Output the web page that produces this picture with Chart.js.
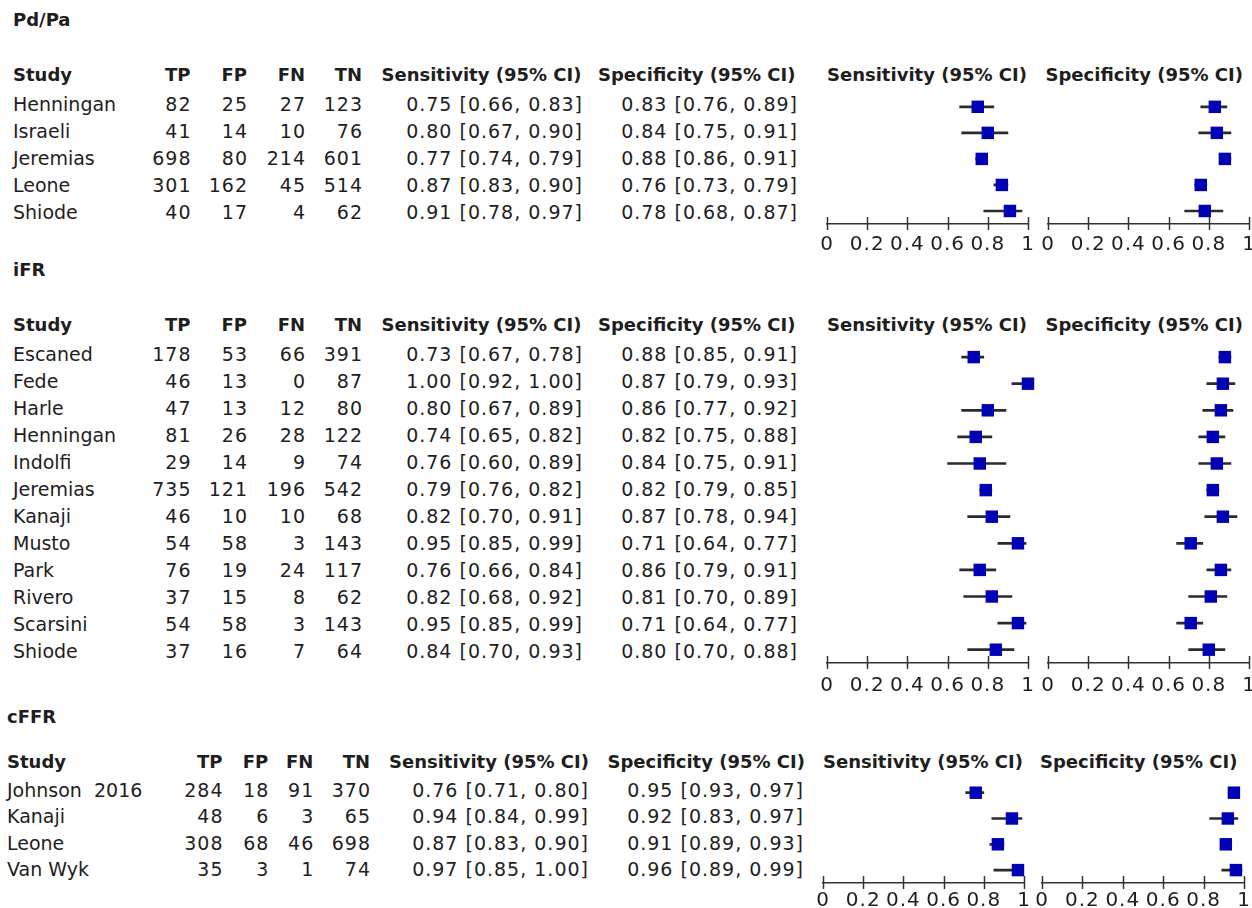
<!DOCTYPE html>
<html lang="en">
<head>
<meta charset="UTF-8">
<title>Forest plot</title>
<script src="https://cdn.jsdelivr.net/npm/chart.js"></script>
<style>
  html, body { margin: 0; padding: 0; background: #fff; }
  body { width: 1252px; height: 908px; position: relative; overflow: hidden;
         font-family: "DejaVu Sans", sans-serif; color: #1e1e1e; }
  .t { position: absolute; white-space: pre; font-size: 19px; line-height: 22px; height: 22px; }
  .b { font-weight: bold; font-size: 18px; }
  .n { letter-spacing: 1px; }
  .r { text-align: right; }
  canvas { position: absolute; }
</style>
</head>
<body>
<script>
// ---- data ----
// Pd/Pa
const pdStudy = ['Henningan', 'Israeli', 'Jeremias', 'Leone', 'Shiode'];
const pdTP = [82, 41, 698, 301, 40];
const pdFP = [25, 14, 80, 162, 17];
const pdFN = [27, 10, 214, 45, 4];
const pdTN = [123, 76, 601, 514, 62];
const pdSens = [0.75, 0.80, 0.77, 0.87, 0.91];
const pdSensLo = [0.66, 0.67, 0.74, 0.83, 0.78];
const pdSensHi = [0.83, 0.90, 0.79, 0.90, 0.97];
const pdSpec = [0.83, 0.84, 0.88, 0.76, 0.78];
const pdSpecLo = [0.76, 0.75, 0.86, 0.73, 0.68];
const pdSpecHi = [0.89, 0.91, 0.91, 0.79, 0.87];

// iFR
const ifrStudy = ['Escaned', 'Fede', 'Harle', 'Henningan', 'Indolfi', 'Jeremias', 'Kanaji', 'Musto', 'Park', 'Rivero', 'Scarsini', 'Shiode'];
const ifrTP = [178, 46, 47, 81, 29, 735, 46, 54, 76, 37, 54, 37];
const ifrFP = [53, 13, 13, 26, 14, 121, 10, 58, 19, 15, 58, 16];
const ifrFN = [66, 0, 12, 28, 9, 196, 10, 3, 24, 8, 3, 7];
const ifrTN = [391, 87, 80, 122, 74, 542, 68, 143, 117, 62, 143, 64];
const ifrSens = [0.73, 1.00, 0.80, 0.74, 0.76, 0.79, 0.82, 0.95, 0.76, 0.82, 0.95, 0.84];
const ifrSensLo = [0.67, 0.92, 0.67, 0.65, 0.60, 0.76, 0.70, 0.85, 0.66, 0.68, 0.85, 0.70];
const ifrSensHi = [0.78, 1.00, 0.89, 0.82, 0.89, 0.82, 0.91, 0.99, 0.84, 0.92, 0.99, 0.93];
const ifrSpec = [0.88, 0.87, 0.86, 0.82, 0.84, 0.82, 0.87, 0.71, 0.86, 0.81, 0.71, 0.80];
const ifrSpecLo = [0.85, 0.79, 0.77, 0.75, 0.75, 0.79, 0.78, 0.64, 0.79, 0.70, 0.64, 0.70];
const ifrSpecHi = [0.91, 0.93, 0.92, 0.88, 0.91, 0.85, 0.94, 0.77, 0.91, 0.89, 0.77, 0.88];

// cFFR
const cffrStudy = ['Johnson  2016', 'Kanaji', 'Leone', 'Van Wyk'];
const cffrTP = [284, 48, 308, 35];
const cffrFP = [18, 6, 68, 3];
const cffrFN = [91, 3, 46, 1];
const cffrTN = [370, 65, 698, 74];
const cffrSens = [0.76, 0.94, 0.87, 0.97];
const cffrSensLo = [0.71, 0.84, 0.83, 0.85];
const cffrSensHi = [0.80, 0.99, 0.90, 1.00];
const cffrSpec = [0.95, 0.92, 0.91, 0.96];
const cffrSpecLo = [0.93, 0.83, 0.89, 0.89];
const cffrSpecHi = [0.97, 0.97, 0.93, 0.99];

const headers = ['Study', 'TP', 'FP', 'FN', 'TN', 'Sensitivity (95% CI)', 'Specificity (95% CI)'];
const axisTicks = [0, 0.2, 0.4, 0.6, 0.8, 1];

// ---- layout ----
const colsA = { study: 13, tp: 190.5, fp: 247, fn: 305, tn: 362, sensH: 381.5, sensR: 582, specH: 598, specR: 797,
                fSens: [827, 1028], fSpec: [1047.5, 1248] };
const colsC = { study: 7, tp: 222.5, fp: 268.3, fn: 313.3, tn: 370, sensH: 389, sensR: 588, specH: 607.5, specR: 803,
                fSens: [823, 1023.5], fSpec: [1042, 1244] };

const sections = [
  { title: 'Pd/Pa', titleY: 20, headY: 75, row0: 102, step: 27, axisY: 223, tickPad: 9, cols: colsA,
    study: pdStudy, tp: pdTP, fp: pdFP, fn: pdFN, tn: pdTN,
    sens: [pdSens, pdSensLo, pdSensHi], spec: [pdSpec, pdSpecLo, pdSpecHi] },
  { title: 'iFR', titleY: 270, headY: 325, row0: 352.5, step: 27, axisY: 663, tickPad: 11, cols: colsA,
    study: ifrStudy, tp: ifrTP, fp: ifrFP, fn: ifrFN, tn: ifrTN,
    sens: [ifrSens, ifrSensLo, ifrSensHi], spec: [ifrSpec, ifrSpecLo, ifrSpecHi] },
  { title: 'cFFR', titleY: 717, headY: 761.5, row0: 788.3, step: 26.5, axisY: 883, tickPad: 6, cols: colsC,
    study: cffrStudy, tp: cffrTP, fp: cffrFP, fn: cffrFN, tn: cffrTN,
    sens: [cffrSens, cffrSensLo, cffrSensHi], spec: [cffrSpec, cffrSpecLo, cffrSpecHi] }
];

const TXT_DY = 1.5;

function txt(s, x, yc, cls, right) {
  const d = document.createElement('div');
  d.className = 't ' + (cls || '') + (right ? ' r' : '');
  d.textContent = s;
  d.style.top = (yc - 11) + 'px';
  if (cls && cls.indexOf('n') >= 0 && right) x += 1;   // trailing letter-spacing
  if (right) { d.style.left = (x - 300) + 'px'; d.style.width = '300px'; }
  else d.style.left = x + 'px';
  document.body.appendChild(d);
}

function ci(v, lo, hi) {
  return v.toFixed(2) + ' [' + lo.toFixed(2) + ', ' + hi.toFixed(2) + ']';
}

const tickMarks = {
  id: 'tickMarks',
  beforeDraw(chart) {
    chart.ctx.letterSpacing = '1px';
  },
  afterDraw(chart) {
    const s = chart.scales.x, c = chart.ctx, y = chart.chartArea.bottom;
    c.save();
    c.strokeStyle = '#333';
    c.lineWidth = 1.5;
    s.ticks.forEach(t => {
      const x = Math.round(s.getPixelForValue(t.value)) + 0.5;
      c.beginPath(); c.moveTo(x, y - 7); c.lineTo(x, y + 6); c.stroke();
    });
    c.restore();
  }
};

function forest(sec, range, vals) {
  // wide side padding so the plot area is fixed by the padding, not by label overhang
  const padL = 30, padR = 30, padT = 4, padB = 2, axisH = 38;
  const areaTop = sec.row0 - sec.step / 2;
  const areaH = sec.axisY - areaTop;
  const cv = document.createElement('canvas');
  cv.width = Math.round(range[1] - range[0] + padL + padR);
  cv.height = Math.round(padT + areaH + axisH + padB);
  cv.style.left = (range[0] - padL) + 'px';
  cv.style.top = (areaTop - padT) + 'px';
  document.body.appendChild(cv);
  new Chart(cv, {
    type: 'bar',
    data: {
      labels: sec.study,
      datasets: [
        { type: 'line', data: vals[0], showLine: false, pointStyle: 'rect', pointRadius: 8.8, pointHoverRadius: 8.8,
          backgroundColor: '#0000b4', borderColor: '#0000b4', borderWidth: 0, clip: false, indexAxis: 'y' },
        { type: 'bar', data: vals[1].map((v, i) => [v, vals[2][i]]), backgroundColor: '#2b2b2b',
          barThickness: 2, borderSkipped: false, indexAxis: 'y' }
      ]
    },
    options: {
      indexAxis: 'y',
      responsive: false,
      animation: false,
      layout: { padding: { left: padL, right: padR, top: padT, bottom: padB } },
      plugins: { legend: { display: false }, tooltip: { enabled: false } },
      scales: {
        x: {
          type: 'linear', min: 0, max: 1,
          grid: { display: false, drawTicks: false },
          border: { display: true, color: '#333', width: 1.5 },
          afterBuildTicks: s => { s.ticks = axisTicks.map(v => ({ value: v })); },
          ticks: { padding: sec.tickPad, color: '#1e1e1e', autoSkip: false, maxRotation: 0,
                   font: { family: 'DejaVu Sans', size: 20 },
                   callback: v => String(Number(v.toFixed(1))) },
          afterFit: s => { s.height = axisH; }
        },
        y: { type: 'category', display: false, offset: true }
      }
    },
    plugins: [tickMarks]
  });
}

sections.forEach(sec => {
  const c = sec.cols;
  txt(sec.title, c.study, sec.titleY, 'b');
  txt(headers[0], c.study, sec.headY, 'b');
  txt(headers[1], c.tp, sec.headY, 'b', true);
  txt(headers[2], c.fp, sec.headY, 'b', true);
  txt(headers[3], c.fn, sec.headY, 'b', true);
  txt(headers[4], c.tn, sec.headY, 'b', true);
  txt(headers[5], c.sensH, sec.headY, 'b');
  txt(headers[6], c.specH, sec.headY, 'b');
  txt(headers[5], c.fSens[0], sec.headY, 'b');
  txt(headers[6], c.fSpec[0] - 2, sec.headY, 'b');
  sec.study.forEach((s, i) => {
    const y = sec.row0 + i * sec.step + TXT_DY;
    txt(s, c.study, y);
    txt(String(sec.tp[i]), c.tp, y, 'n', true);
    txt(String(sec.fp[i]), c.fp, y, 'n', true);
    txt(String(sec.fn[i]), c.fn, y, 'n', true);
    txt(String(sec.tn[i]), c.tn, y, 'n', true);
    txt(ci(sec.sens[0][i], sec.sens[1][i], sec.sens[2][i]), c.sensR, y, 'n', true);
    txt(ci(sec.spec[0][i], sec.spec[1][i], sec.spec[2][i]), c.specR, y, 'n', true);
  });
  forest(sec, c.fSens, sec.sens);
  forest(sec, c.fSpec, sec.spec);
});
</script>
</body>
</html>
